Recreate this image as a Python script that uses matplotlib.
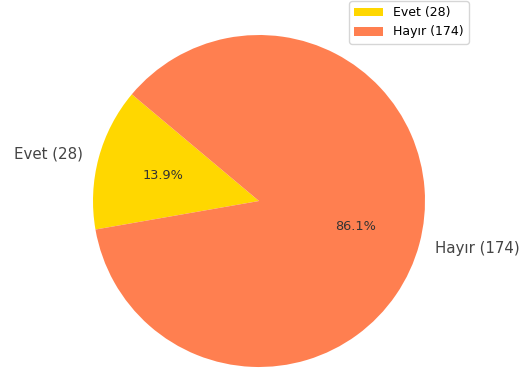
import matplotlib
matplotlib.use("Agg")
import matplotlib.pyplot as plt

categories = ["Evet", "Hayır"]
counts = [28, 174]
colors = ["#FFD700", "#FF7F50"]
labels = [f"{c} ({n})" for c, n in zip(categories, counts)]

W, H = 529, 374
fig = plt.figure(figsize=(W / 100, H / 100), dpi=100)
ax = fig.add_axes([0, 0, 1, 1])

# pie centre (259, 201) px from top-left, radius 166 px
cx, cy, r = 259, 201, 166
wedges, texts, autotexts = ax.pie(
    counts, labels=labels, colors=colors, autopct="%1.1f%%",
    startangle=140, textprops={"fontsize": 10.8, "color": "#444444"},
)
for t in autotexts:
    t.set_fontsize(9.3)
    t.set_color("#333333")
ax.set_aspect("auto")
ax.set_xlim(-cx / r, (W - cx) / r)
ax.set_ylim(-(H - cy) / r, cy / r)
ax.axis("off")

fig.legend(wedges, labels, loc="upper right", bbox_to_anchor=(470 / W, 1.0),
           fontsize=9, handlelength=2.3, borderaxespad=0.1)

fig.savefig("out.png", dpi=100)
